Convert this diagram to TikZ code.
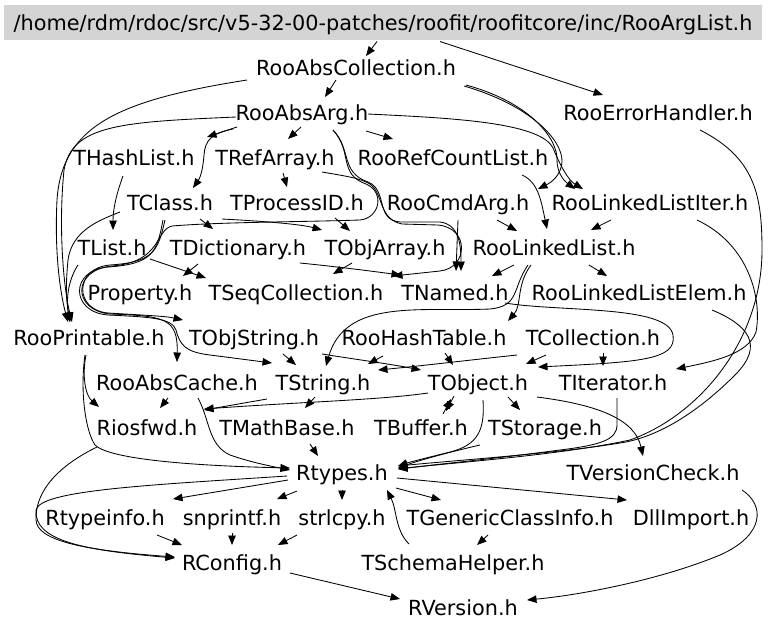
\documentclass[tikz,border=0pt]{standalone}
\usepackage{fontspec}
\setmainfont{DejaVu Sans}
\usetikzlibrary{arrows.meta,calc}
\begin{document}
\begin{tikzpicture}[x=1pt,y=-1pt,
  file/.style={font=\fontsize{20.8}{24}\selectfont, inner sep=0pt, text height=17.5pt, text depth=1.5pt},
  rootbox/.style={file, fill=black!17, minimum width=758pt, minimum height=35pt},
  dep/.style={-{Triangle[length=9.5pt,width=7.5pt]}, line width=0.85pt}]
\useasboundingbox (0,0) rectangle (768,630);

% header files
\node[rootbox] (root) at (383,22.5) {/home/rdm/rdoc/src/v5-32-00-patches/roofit/roofitcore/inc/RooArgList.h};
\node[file] (rac) at (356,67) {RooAbsCollection.h};
\node[file] (reh) at (658,112) {RooErrorHandler.h};
\node[file] (raa) at (302,112) {RooAbsArg.h};
\node[file] (thl) at (134,157) {THashList.h};
\node[file] (tra) at (275,157) {TRefArray.h};
\node[file] (rrc) at (453,157) {RooRefCountList.h};
\node[file] (tcl) at (170,202) {TClass.h};
\node[file] (tpi) at (297,202) {TProcessID.h};
\node[file] (rca) at (458,202) {RooCmdArg.h};
\node[file] (rli) at (650,202) {RooLinkedListIter.h};
\node[file] (tli) at (112,247) {TList.h};
\node[file] (tdi) at (238,247) {TDictionary.h};
\node[file] (toa) at (385,247) {TObjArray.h};
\node[file] (rll) at (554,247) {RooLinkedList.h};
\node[file] (prp) at (140,292) {Property.h};
\node[file] (tsc) at (296,292) {TSeqCollection.h};
\node[file] (tna) at (455,292) {TNamed.h};
\node[file] (rle) at (639,292) {RooLinkedListElem.h};
\node[file] (rpr) at (89,337) {RooPrintable.h};
\node[file] (tos) at (254,337) {TObjString.h};
\node[file] (rht) at (424,337) {RooHashTable.h};
\node[file] (tco) at (593,337) {TCollection.h};
\node[file] (ach) at (177,382) {RooAbsCache.h};
\node[file] (tst) at (323,382) {TString.h};
\node[file] (tob) at (478,382) {TObject.h};
\node[file] (tit) at (613,382) {TIterator.h};
\node[file] (rio) at (147,427) {Riosfwd.h};
\node[file] (tmb) at (287,427) {TMathBase.h};
\node[file] (tbu) at (421,427) {TBuffer.h};
\node[file] (tsto) at (545,427) {TStorage.h};
\node[file] (rty) at (342,472) {Rtypes.h};
\node[file] (tvc) at (653,472) {TVersionCheck.h};
\node[file] (rti) at (105,517) {Rtypeinfo.h};
\node[file] (snp) at (232,517) {snprintf.h};
\node[file] (stl) at (342,517) {strlcpy.h};
\node[file] (tgc) at (510,517) {TGenericClassInfo.h};
\node[file] (dll) at (691,517) {DllImport.h};
\node[file] (rcf) at (232,562) {RConfig.h};
\node[file] (tsh) at (453,562) {TSchemaHelper.h};
\node[file] (rve) at (463,607) {RVersion.h};

% include dependencies
\draw[dep] ($(root)+(-6,19)$) -- ($(rac)+(10,-11)$);
\draw[dep] ($(root)+(57,19)$) -- ($(reh)+(-55,-17)$);
\draw[dep] ($(rac)+(-20,13)$) -- ($(raa)+(23,-15)$);
\draw[dep] ($(rac)+(-109,13)$) .. controls (120,100) and (62,125) .. (57,200) .. controls (54,260) and (62,300) .. ($(rpr)+(-21,-15)$);
\draw[dep] ($(raa)+(-66,5)$) .. controls (120,122) and (72,125) .. (64,170) .. controls (58,230) and (64,290) .. ($(rpr)+(-17,-15)$);
\draw[dep] ($(tcl)+(-50,10)$) .. controls (100,220) and (72,230) .. (68,260) .. controls (65,290) and (67,305) .. ($(rpr)+(-19,-15)$);
\draw[dep] ($(tli)+(-34,18)$) .. controls (68,280) and (66,300) .. ($(rpr)+(-19,-15)$);
\draw[dep] ($(rac)+(108,19)$) .. controls (530,105) and (563,140) .. (562,162) .. controls (561,175) and (552,182) .. ($(rca)+(80,-13)$);
\draw[dep] ($(rac)+(110,18)$) .. controls (532,103) and (558,140) .. (557,160) .. controls (557,172) and (563,180) .. ($(rli)+(-75,-13)$);
\draw[dep] ($(raa)+(66,2)$) .. controls (450,118) and (540,122) .. (553,148) .. controls (560,165) and (568,180) .. ($(rli)+(-67,-13)$);
\draw[dep] ($(raa)+(-65,15)$) -- ($(thl)+(73,-20)$);
\draw[dep] ($(raa)+(-69,17)$) .. controls (212,133) and (205,140) .. (204,155) .. controls (203,170) and (200,178) .. ($(tcl)+(23,-14)$);
\draw[dep] ($(raa)+(-1,15)$) -- ($(tra)+(13,-18)$);
\draw[dep] ($(raa)+(64,19)$) -- ($(rrc)+(-60,-18)$);
\draw[dep] ($(raa)+(31,18)$) .. controls (352,150) and (340,172) .. (368,182) .. controls (388,190) and (375,220) .. (400,222) -- (440,222) .. controls (457,224) and (461,240) .. ($(tna)+(6,-21)$);
\draw[dep] ($(raa)+(31,18)$) .. controls (353,152) and (338,174) .. (366,184) .. controls (385,192) and (380,218) .. (360,220) .. controls (300,222) and (220,222) .. (172,226) .. controls (155,230) and (162,262) .. (112,266) .. controls (72,270) and (72,310) .. (110,314) .. controls (165,316) and (178,318) .. ($(ach)+(0,-20)$);
\draw[dep] ($(tra)+(47,15)$) .. controls (345,176) and (360,178) .. (370,184) .. controls (384,194) and (378,219) .. (402,224) -- (438,225) .. controls (470,228) and (468,268) .. (440,271) -- ($(tsc)+(97,-16)$);
\draw[dep] ($(tra)+(8,16)$) -- ($(tpi)+(-10,-15)$);
\draw[dep] ($(thl)+(-11,19)$) .. controls (116,195) and (113,210) .. ($(tli)+(1,-17)$);
\draw[dep] ($(tcl)+(30,17)$) -- ($(tdi)+(-25,-18)$);
\draw[dep] ($(tcl)+(52,17)$) .. controls (260,221) and (300,224) .. ($(toa)+(-63,-17)$);
\draw[dep] ($(tcl)+(-5,18)$) .. controls (158,250) and (155,262) .. (110,265) .. controls (74,268) and (74,310) .. (108,313) .. controls (140,315) and (165,316) .. ($(tos)+(-71,-17)$);
\draw[dep] ($(tcl)+(-7,18)$) .. controls (157,252) and (153,264) .. (108,267) .. controls (70,270) and (70,312) .. (108,315) .. controls (150,317) and (172,318) .. (176,330) .. controls (180,345) and (185,352) .. (210,355) -- ($(tst)+(-51,-19)$);
\draw[dep] ($(tpi)+(38,16)$) -- ($(toa)+(-35,-16)$);
\draw[dep] ($(rrc)+(69,18)$) .. controls (538,182) and (541,200) .. ($(rll)+(-7,-18)$);
\draw[dep] ($(rca)+(39,18)$) -- ($(rll)+(-37,-16)$);
\draw[dep] ($(rli)+(-39,18)$) -- ($(rll)+(37,-17)$);
\draw[dep] ($(rca)+(0,18)$) -- ($(tna)+(1,-21)$);
\draw[dep] ($(rli)+(47,18)$) .. controls (750,245) and (762,300) .. (756,332) .. controls (748,355) and (710,362) .. ($(tit)+(63,-13)$);
\draw[dep] ($(reh)+(42,18)$) .. controls (755,158) and (762,195) .. (762,250) .. controls (762,340) and (700,415) .. (630,440) .. controls (560,455) and (460,462) .. ($(rty)+(56,-3)$);
\draw[dep] ($(rle)+(73,18)$) .. controls (748,325) and (765,345) .. (735,375) .. controls (700,410) and (660,437) .. (620,443) .. controls (560,453) and (460,460) .. ($(rty)+(56,-6)$);
\draw[dep] ($(tli)+(38,12)$) -- ($(tsc)+(-90,-14)$);
\draw[dep] ($(tdi)+(-40,17)$) -- ($(prp)+(43,-16)$);
\draw[dep] ($(tdi)+(62,16)$) .. controls (340,267) and (370,271) .. ($(tna)+(-54,-17)$);
\draw[dep] ($(toa)+(-33,16)$) -- ($(tsc)+(37,-18)$);
\draw[dep] ($(rll)+(-40,18)$) -- ($(tna)+(37,-16)$);
\draw[dep] ($(rll)+(35,18)$) -- ($(rle)+(-32,-16)$);
\draw[dep] ($(rll)+(-23,18)$) .. controls (516,285) and (522,305) .. ($(rht)+(84,-16)$);
\draw[dep] ($(rll)+(-26,18)$) .. controls (512,288) and (520,306) .. (490,309) .. controls (420,312) and (345,298) .. ($(tst)+(3,-16)$);
\draw[dep] ($(tna)+(50,11)$) .. controls (560,312) and (668,305) .. (673,335) .. controls (677,360) and (640,362) .. ($(tob)+(60,-15)$);
\draw[dep] ($(tos)+(29,17)$) -- ($(tst)+(-27,-17)$);
\draw[dep] ($(tos)+(68,17)$) .. controls (360,360) and (390,364) .. ($(tob)+(-57,-12)$);
\draw[dep] ($(rht)+(-41,19)$) -- ($(tst)+(45,-18)$);
\draw[dep] ($(rht)+(21,16)$) -- ($(tob)+(-25,-17)$);
\draw[dep] ($(tco)+(-76,18)$) .. controls (470,360) and (420,366) .. ($(tst)+(55,-12)$);
\draw[dep] ($(tco)+(-47,18)$) -- ($(tob)+(48,-18)$);
\draw[dep] ($(tco)+(10,16)$) -- ($(tit)+(-10,-16)$);
\draw[dep] ($(rpr)+(-3,18)$) .. controls (82,375) and (85,395) .. ($(rio)+(-48,-20)$);
\draw[dep] ($(ach)+(-9,16)$) -- ($(rio)+(13,-19)$);
\draw[dep] ($(tst)+(-56,17)$) -- ($(rio)+(57,-17)$);
\draw[dep] ($(tob)+(-50,11)$) .. controls (380,400) and (300,402) .. ($(rio)+(57,-18)$);
\draw[dep] ($(tst)+(-8,15)$) -- ($(tmb)+(18,-19)$);
\draw[dep] ($(tob)+(-24,14)$) -- ($(tbu)+(25,-16)$);
\draw[dep] ($(tbu)+(22,-13)$) -- ($(tob)+(-27,17)$);
\draw[dep] ($(tob)+(30,15)$) -- ($(tsto)+(-25,-17)$);
\draw[dep] ($(tob)+(59,15)$) .. controls (600,405) and (635,420) .. ($(tvc)+(-10,-16)$);
\draw[dep] ($(tob)+(5,18)$) .. controls (485,430) and (478,445) .. (450,452) .. controls (430,457) and (410,462) .. ($(rty)+(56,-6)$);
\draw[dep] ($(tsto)+(-65,18)$) .. controls (450,452) and (420,460) .. ($(rty)+(56,-4)$);
\draw[dep] ($(tit)+(4,16)$) -- (617,425) .. controls (617,440) and (600,445) .. (560,450) .. controls (500,458) and (440,464) .. ($(rty)+(56,-3)$);
\draw[dep] ($(tmb)+(23,17)$) -- ($(rty)+(-24,-16)$);
\draw[dep] ($(rpr)+(-4,18)$) .. controls (80,390) and (85,430) .. (95,445) .. controls (110,460) and (200,466) .. ($(rty)+(-52,-4)$);
\draw[dep] ($(ach)+(21,16)$) .. controls (210,420) and (208,445) .. (230,455) .. controls (250,462) and (270,466) .. ($(rty)+(-52,-2)$);
\draw[dep] ($(rio)+(-50,20)$) .. controls (60,465) and (35,490) .. (36,520) .. controls (37,540) and (80,550) .. ($(rcf)+(-57,-5)$);
\draw[dep] ($(rty)+(-55,4)$) .. controls (150,485) and (40,490) .. (36,510) .. controls (34,540) and (80,550) .. ($(rcf)+(-57,-4)$);
\draw[dep] ($(rty)+(-54,8)$) -- ($(rti)+(68,-18)$);
\draw[dep] ($(rty)+(-45,19)$) -- ($(snp)+(45,-18)$);
\draw[dep] ($(rty)+(0,18)$) -- ($(stl)+(0,-17)$);
\draw[dep] ($(rty)+(54,16)$) -- ($(tgc)+(-69,-17)$);
\draw[dep] ($(rty)+(55,6)$) -- ($(dll)+(-64,-17)$);
\draw[dep] ($(tsh)+(-44,-18)$) .. controls (395,530) and (397,510) .. ($(rty)+(45,18)$);
\draw[dep] ($(tgc)+(-22,18)$) -- ($(tsh)+(24,-17)$);
\draw[dep] ($(rti)+(52,18)$) -- ($(rcf)+(-50,-17)$);
\draw[dep] ($(snp)+(0,16)$) -- ($(rcf)+(0,-17)$);
\draw[dep] ($(stl)+(-45,18)$) -- ($(rcf)+(46,-17)$);
\draw[dep] ($(rcf)+(58,11)$) -- ($(rve)+(-63,-8)$);
\draw[dep] ($(tvc)+(89,18)$) .. controls (765,505) and (765,535) .. (720,555) .. controls (660,580) and (580,595) .. ($(rve)+(64,-7)$);
\end{tikzpicture}
\end{document}
